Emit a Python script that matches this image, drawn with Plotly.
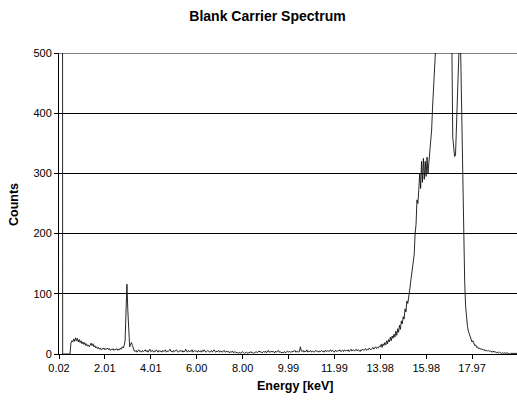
import plotly.graph_objects as go

# Spectrum: counts, one value every 2 channels (channel 0..998)
start_keV = 0.02
keV_per_channel = 0.019944
channel_stride = 2

# channels 0-24: noise peak (off scale) then empty
counts_low_noise = [3000, 9000, 9000, 5000, 0, 0, 0, 0, 0, 0, 0, 0, 0]
# channels 26-164: low-energy background and Ar K peak
counts_low = [
    18, 22, 20, 25, 21, 27, 22, 26, 20, 24,
    19, 22, 17, 20, 16, 19, 14, 17, 13, 15,
    12, 16, 18, 14, 17, 12, 14, 10, 12, 9,
    11, 8, 10, 7, 9, 8, 10, 7, 9, 8,
    10, 7, 9, 6, 8, 7, 9, 6, 8, 7,
    9, 6, 8, 7, 10, 8, 12, 10, 14, 22,
    70, 116, 72, 22, 12, 16, 19, 14, 9, 5,
]
# channels 166-698: flat background
counts_mid = [
    4, 6, 3, 5, 7, 4, 5, 3, 6, 4,
    5, 7, 4, 6, 3, 5, 8, 4, 5, 6,
    3, 5, 4, 7, 5, 3, 6, 4, 5, 3,
    6, 4, 5, 7, 3, 5, 4, 6, 8, 4,
    5, 3, 6, 4, 5, 7, 4, 3, 5, 6,
    4, 6, 3, 5, 4, 8, 5, 3, 6, 4,
    5, 4, 7, 3, 5, 6, 4, 5, 3, 6,
    4, 5, 3, 6, 4, 7, 5, 3, 4, 6,
    5, 3, 4, 6, 3, 5, 7, 4, 3, 5,
    4, 6, 3, 5, 4, 3, 5, 6, 3, 4,
    5, 3, 4, 2, 4, 3, 5, 2, 3, 4,
    2, 3, 1, 2, 3, 1, 2, 4, 2, 1,
    2, 3, 2, 1, 3, 2, 4, 2, 3, 1,
    2, 3, 4, 2, 3, 5, 3, 4, 2, 3,
    4, 3, 5, 2, 4, 6, 3, 4, 3, 5,
    3, 4, 2, 5, 3, 4, 6, 3, 4, 2,
    3, 2, 3, 4, 2, 3, 5, 3, 4, 3,
    4, 3, 5, 4, 6, 3, 4, 5, 3, 4,
    12, 5, 4, 6, 3, 5, 4, 7, 3, 5,
    4, 6, 3, 5, 4, 3, 5, 6, 4, 5,
    3, 5, 4, 6, 4, 5, 3, 6, 5, 4,
    6, 4, 5, 7, 4, 6, 5, 3, 6, 5,
    4, 6, 5, 7, 4, 5, 6, 4, 7, 5,
    6, 5, 7, 4, 6, 8, 5, 6, 7, 5,
    6, 8, 5, 7, 6, 4, 7, 6, 8, 6,
    7, 9, 6, 8, 7, 10, 8, 7, 9, 11,
    8, 10, 12, 9, 11, 10, 13,
]
# channels 700-898: rising flank, Compton and Mo K-alpha peaks
counts_peaks = [
    12, 16, 11, 17, 14, 19, 15, 22, 17, 24,
    20, 28, 22, 30, 26, 33, 28, 38, 31, 42,
    36, 48, 41, 55, 50, 62, 58, 75, 70, 88,
    84, 100, 105, 118, 130, 145, 155, 165, 200, 215,
    256, 250, 272, 300, 275, 320, 285, 325, 290, 320,
    295, 327, 300, 320, 330, 345, 372, 410, 450, 510,
    560, 600, 640, 670, 700, 720, 740, 750, 760, 760,
    755, 745, 730, 710, 680, 640, 600, 560, 520, 360,
    345, 328, 330, 370, 414, 470, 540, 560, 470, 360,
    300, 210, 120, 80, 58, 46, 38, 33, 26, 24,
]
# channels 900-998: tail
counts_tail = [
    20, 22, 16, 14, 15, 11, 12, 9, 10, 8,
    9, 7, 8, 6, 7, 5, 6, 5, 6, 4,
    5, 4, 3, 5, 3, 4, 3, 2, 3, 2,
    3, 2, 1, 2, 1, 2, 1, 1, 2, 1,
    1, 0, 1, 1, 0, 1, 0, 1, 0, 1,
]

counts = counts_low_noise + counts_low + counts_mid + counts_peaks + counts_tail
assert len(counts) == 500, len(counts)
energies = [start_keV + i * channel_stride * keV_per_channel for i in range(len(counts))]

x_tick_labels = ["0.02", "2.01", "4.01", "6.00", "8.00", "9.99", "11.99", "13.98", "15.98", "17.97"]
y_tick_values = [0, 100, 200, 300, 400, 500]

title_text = "Blank Carrier Spectrum"
x_title = "Energy [keV]"
y_title = "Counts"

FONT = "Liberation Sans, Arial, sans-serif"
W, H = 517, 402
L, R, T, B = 59, 0, 53, 48

fig = go.Figure()
fig.add_trace(go.Scatter(x=energies, y=counts, mode="lines",
                         line=dict(color="#111111", width=0.9), hoverinfo="skip"))

fig.update_layout(
    width=W, height=H,
    margin=dict(l=L, r=R, t=T, b=B),
    paper_bgcolor="white", plot_bgcolor="white",
    showlegend=False,
    font=dict(family=FONT, color="black", size=11),
    title=dict(text="<b>" + title_text + "</b>", font=dict(size=14, family=FONT, color="black"),
               x=267.5 / W, xref="container", xanchor="center",
               y=1 - 16 / H, yref="container", yanchor="middle"),
    xaxis=dict(range=[energies[0], energies[-1]],
               tickvals=[float(t) for t in x_tick_labels], ticktext=x_tick_labels,
               showgrid=False, zeroline=False,
               showline=True, linecolor="black", linewidth=1,
               ticks="outside", ticklen=4, tickcolor="black", tickwidth=1,
               tickfont=dict(size=11, family=FONT, color="black")),
    yaxis=dict(range=[0, 500], tickvals=y_tick_values,
               showgrid=True, gridcolor="black", gridwidth=1,
               zeroline=False,
               showline=True, linecolor="black", linewidth=1,
               ticks="outside", ticklen=4, tickcolor="black", tickwidth=1,
               tickfont=dict(size=11, family=FONT, color="black")),
    shapes=[dict(type="line", xref="paper", yref="y", x0=0, x1=1,
                 y0=y_tick_values[-1], y1=y_tick_values[-1],
                 line=dict(color="black", width=1), layer="below")],
    annotations=[
        dict(text="<b>" + x_title + "</b>", xref="paper", yref="paper",
             x=(295 - L) / (W - L - R), y=-(386 - (H - B)) / (H - T - B),
             xanchor="center", yanchor="middle", showarrow=False,
             font=dict(size=12.5, family=FONT, color="black")),
        dict(text="<b>" + y_title + "</b>", xref="paper", yref="paper",
             x=(14 - L) / (W - L - R), y=1 - (205 - T) / (H - T - B),
             xanchor="center", yanchor="middle", textangle=-90, showarrow=False,
             font=dict(size=12.5, family=FONT, color="black")),
    ],
)

fig.write_html("out.html", config={"displayModeBar": False, "staticPlot": True},
               post_script="document.body.style.margin='0';")
